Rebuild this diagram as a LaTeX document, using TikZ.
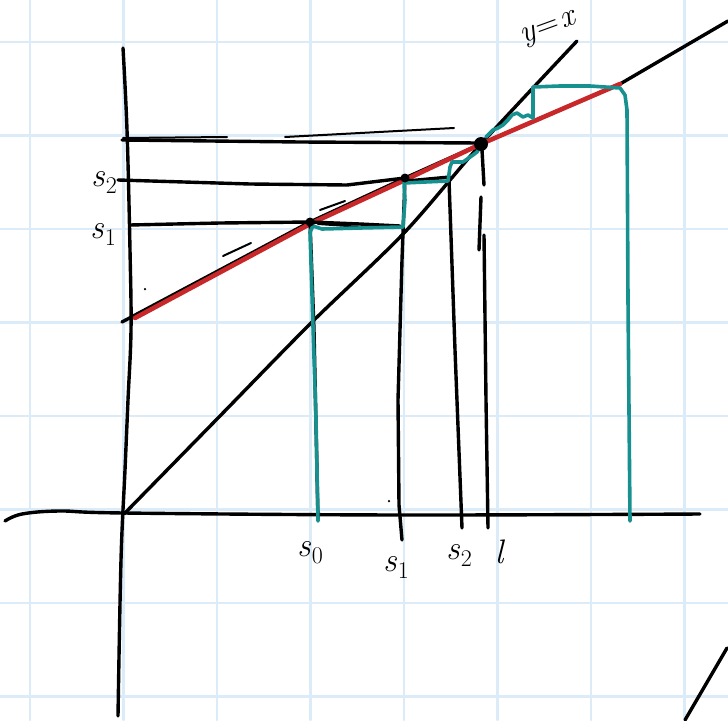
\documentclass[tikz,border=0pt]{standalone}
\definecolor{gridc}{HTML}{DCEBF8}
\definecolor{tealc}{HTML}{16918F}
\definecolor{redc}{HTML}{C8282A}
\newcommand{\seq}[1]{{\itshape s}\kern1pt\raisebox{-7pt}{\fontsize{24}{24}\selectfont #1}}
\begin{document}
\begin{tikzpicture}[x=1pt,y=-1pt,line cap=round,line join=round,
  ink/.style={line width=3.4pt,draw=black},
  fine/.style={line width=2pt,draw=black},
  cob/.style={line width=3.6pt,draw=tealc},
  redline/.style={line width=4.6pt,draw=redc},
  gridline/.style={line width=2.6pt,draw=gridc},
  lbl/.style={font=\fontsize{34}{36}\selectfont,inner sep=0pt},
  dot/.style={circle,fill=black,inner sep=0pt,minimum size=#1}]
\useasboundingbox (0,0) rectangle (728,720);
\fill[white] (0,0) rectangle (728,720);
% graph paper
\foreach \i in {0,...,7} {
  \draw[gridline] ({30+93.5*\i},0) -- ({30+93.5*\i},720);
  \draw[gridline] (0,{42+93.5*\i}) -- (728,{42+93.5*\i});
}
% key points
\coordinate (O) at (124,514);
\coordinate (fp) at (481,144);
\coordinate (p1) at (310,222);
\coordinate (p2) at (405,178);
% axes
\draw[ink] plot[smooth,tension=0.6] coordinates {(123,48) (127,130) (130,250) (131,330) (128,400) (125,470) (121,560) (118,716)};
\draw[ink] plot[smooth,tension=0.6] coordinates {(5,521) (22,514) (60,511) (124,513) (400,515) (700,514)};
% y = x
\draw[ink] plot[smooth,tension=0.5] coordinates {(O) (218,418) (311,323) (404,233) (fp) (577,41)};
\node[inner sep=0pt,font=\fontsize{32}{34}\selectfont,rotate=20] (yx) at (549,30) {\itshape y\kern2pt\upshape =\kern2pt\itshape x};
% graph of g (black under red)
\draw[ink] (122,322) -- (p1) -- (p2) -- (fp) -- (620,84) -- (728,21);
\draw[redline] (135,318) -- (310,224) -- (405,180) -- (fp) -- (620,84);
% horizontal guide lines
\draw[ink] (122,140) -- (300,142) -- (480,143);
\draw[fine] (123,138) -- (227,137);
\draw[fine] (285,137) -- (454,128);
\draw[ink] (118,180) -- (250,184) -- (347,185) -- (p2);
\draw[ink] (407,181) -- (450,177);
\draw[ink] (130,225) -- (220,223) -- (p1);
\draw[ink] (p1) -- (360,224) -- (400,226);
\draw[fine] (318,224) -- (362,227);
\draw[fine] (223,256) -- (251,243);
\draw[fine] (320,210) -- (345,201);
% vertical lines
\draw[ink] (p1) -- (314,330) -- (318,520);
\draw[ink] (p2) -- (402,260) -- (398,400) -- (399,505) -- (402,540);
\draw[ink] (449,180) -- (455,350) -- (462,528);
\draw[ink] (482,150) -- (484,185);
\draw[ink] (481,197) -- (479,250);
\draw[ink] (484,235) -- (486,400) -- (488,528);
% cobweb from s0
\draw[cob] (318,521) -- (316,420) -- (310,232) -- (313,226) -- (322,229) -- (360,228) -- (403,227) -- (405,200) -- (404,183) -- (425,182) -- (448,181) -- (450,167) -- (452,162) -- (463,162) -- (473,155) -- (477,152) -- (480,147);
% cobweb from the right
\draw[cob] (630,521) -- (628,300) -- (627,110) -- (625,95) -- (620,88) -- (590,86) -- (560,86) -- (533,87) -- (533,118) -- (528,115) -- (523,117) -- (517,113) -- (512,115) -- (508,120) -- (503,125) -- (498,128) -- (493,130) -- (486,137);
% dots
\node[dot=14pt] (fpdot) at (fp) {};
\node[dot=9pt] (p1dot) at (p1) {};
\node[dot=9pt] (p2dot) at (p2) {};
\node[dot=2.5pt] (spk1) at (145,289) {};
\node[dot=2.5pt] (spk2) at (389,501) {};
% bottom-right stroke
\draw[ink] (727,648) -- (685,720);
% labels
\node[lbl] (ys2) at (104,183) {\seq{2}};
\node[lbl] (ys1) at (103,234) {\seq{1}};
\node[lbl] (xs0) at (310,553) {\seq{0}};
\node[lbl] (xs1) at (396,567) {\seq{1}};
\node[lbl] (xs2) at (459,555) {\seq{2}};
\node[lbl] (xl) at (499,552) {\itshape l};
\end{tikzpicture}
\end{document}
